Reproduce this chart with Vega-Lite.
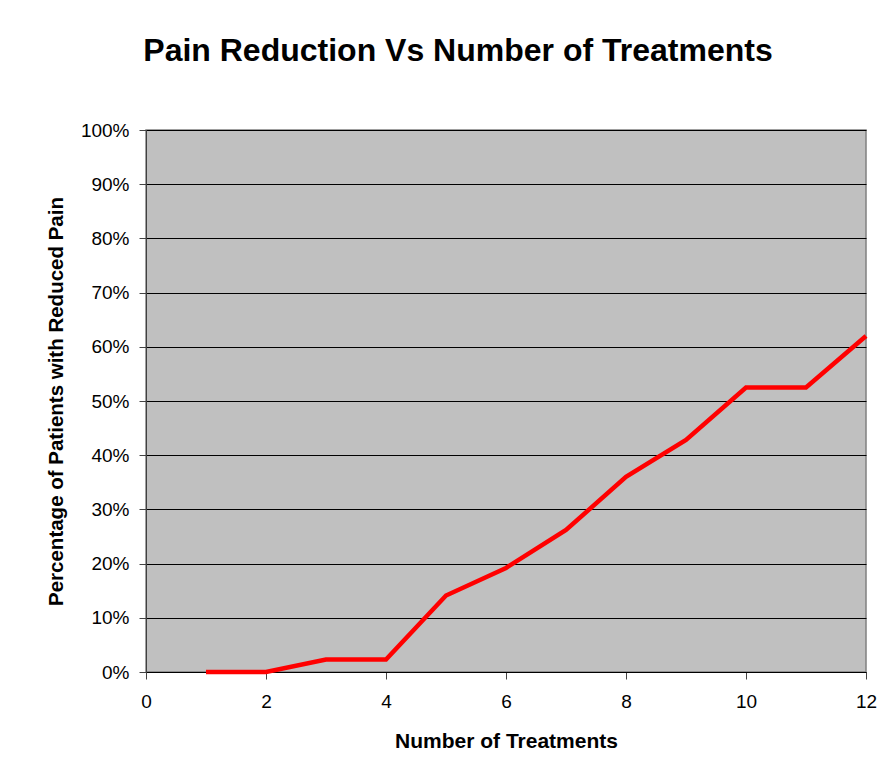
{
  "$schema": "https://vega.github.io/schema/vega-lite/v6.json",
  "width": 720,
  "height": 542,
  "autosize": "none",
  "padding": {"left": 146, "top": 130, "right": 26, "bottom": 102},
  "background": "white",
  "title": {
    "text": "Pain Reduction Vs Number of Treatments",
    "font": "Liberation Sans",
    "fontSize": 32,
    "fontWeight": "bold",
    "color": "black",
    "anchor": "middle",
    "dx": -48,
    "offset": 53
  },
  "data": {
    "values": [
      {"treatments": 1, "pct": 0},
      {"treatments": 2, "pct": 0},
      {"treatments": 3, "pct": 0.023},
      {"treatments": 4, "pct": 0.023},
      {"treatments": 5, "pct": 0.141},
      {"treatments": 6, "pct": 0.192},
      {"treatments": 7, "pct": 0.262},
      {"treatments": 8, "pct": 0.36},
      {"treatments": 9, "pct": 0.428},
      {"treatments": 10, "pct": 0.525},
      {"treatments": 11, "pct": 0.525},
      {"treatments": 12, "pct": 0.62}
    ]
  },
  "mark": {"type": "line", "color": "#ff0000", "strokeWidth": 4.5, "strokeJoin": "miter", "clip": false},
  "encoding": {
    "x": {
      "field": "treatments",
      "type": "quantitative",
      "scale": {"domain": [0, 12], "nice": false, "zero": false},
      "axis": {
        "title": "Number of Treatments",
        "values": [0, 2, 4, 6, 8, 10, 12],
        "grid": false,
        "labelFlush": false,
        "tickSize": 7,
        "tickColor": "#444444",
        "domainColor": "#000000",
        "labelFont": "Liberation Sans",
        "labelFontSize": 19,
        "labelColor": "black",
        "labelPadding": 13,
        "titleFont": "Liberation Sans",
        "titleFontSize": 21,
        "titleFontWeight": "bold",
        "titleColor": "black",
        "titlePadding": 19
      }
    },
    "y": {
      "field": "pct",
      "type": "quantitative",
      "scale": {"domain": [0, 1], "nice": false},
      "axis": {
        "title": "Percentage of Patients with Reduced Pain",
        "format": ".0%",
        "values": [0, 0.1, 0.2, 0.3, 0.4, 0.5, 0.6, 0.7, 0.8, 0.9, 1],
        "grid": true,
        "labelFlush": false,
        "gridColor": "#000000",
        "gridWidth": 1,
        "gridOpacity": 1,
        "tickSize": 7,
        "tickColor": "#444444",
        "domainColor": "#404040",
        "labelFont": "Liberation Sans",
        "labelFontSize": 19,
        "labelColor": "black",
        "labelPadding": 10,
        "titleFont": "Liberation Sans",
        "titleFontSize": 20.5,
        "titleFontWeight": "bold",
        "titleColor": "black",
        "titlePadding": 14
      }
    }
  },
  "config": {
    "view": {"fill": "#c0c0c0", "stroke": "#808080", "strokeWidth": 1.5}
  }
}
